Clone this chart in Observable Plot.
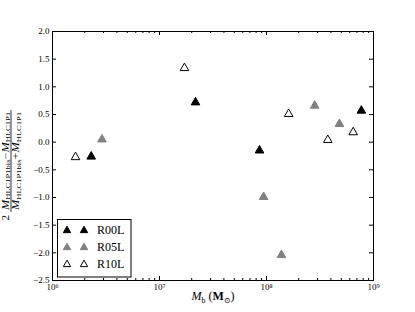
<!DOCTYPE html>
<html><head><meta charset="utf-8">
<script src="https://cdn.jsdelivr.net/npm/d3@7"></script>
<script src="https://cdn.jsdelivr.net/npm/@observablehq/plot@0.6"></script>
<style>body{margin:0;background:#fff}</style>
</head><body><div id="chart"></div>
<script>
// Data
const r00Mass = [2.3e6, 2.17e7, 8.6e7, 7.7e8];
const r00Diff = [-0.24, 0.74, -0.13, 0.59];
const r05Mass = [2.9e6, 9.4e7, 1.38e8, 2.82e8, 4.8e8];
const r05Diff = [0.07, -0.97, -2.02, 0.68, 0.35];
const r10Mass = [1.64e6, 1.71e7, 1.61e8, 3.74e8, 6.46e8];
const r10Diff = [-0.25, 1.36, 0.53, 0.06, 0.20];

const seriesNames = ["R00L", "R05L", "R10L"];
const seriesFill = ["black", "#808080", "white"];
const seriesStroke = ["black", "#808080", "black"];

const xTicks = [1e6, 1e7, 1e8, 1e9];
const xTickLabels = ["10⁶", "10⁷", "10⁸", "10⁹"];
const xMinorTicks = [2e6,3e6,4e6,5e6,6e6,7e6,8e6,9e6,2e7,3e7,4e7,5e7,6e7,7e7,8e7,9e7,2e8,3e8,4e8,5e8,6e8,7e8,8e8,9e8];
const yTicks = [-2.5, -2.0, -1.5, -1.0, -0.5, 0.0, 0.5, 1.0, 1.5, 2.0];

const rows = [];
[[r00Mass, r00Diff], [r05Mass, r05Diff], [r10Mass, r10Diff]].forEach(([m, d], s) => {
  m.forEach((v, i) => rows.push({mass: v, diff: d[i], series: seriesNames[s]}));
});

const tri = {
  draw(ctx, size) {
    const r = Math.sqrt(size / Math.PI);
    ctx.moveTo(0, -0.9 * r);
    ctx.lineTo(r, 0.85 * r);
    ctx.lineTo(-r, 0.85 * r);
    ctx.closePath();
  }
};

const W = 415, H = 312, mL = 52, mR = 42, mT = 31, mB = 32;
const innerW = W - mL - mR, innerH = H - mT - mB;
const font = "'Liberation Serif', 'DejaVu Serif', serif";

const svg = Plot.plot({
  width: W, height: H,
  marginLeft: mL, marginRight: mR, marginTop: mT, marginBottom: mB,
  style: {fontFamily: font, fontSize: "9px", background: "white", color: "black"},
  x: {type: "log", domain: [1e6, 1e9]},
  y: {domain: [-2.5, 2.0]},
  marks: [
    Plot.tickX(xTicks, {x: d => d, insetTop: innerH - 4, stroke: "black"}),
    Plot.tickX(xTicks, {x: d => d, insetBottom: innerH - 4, stroke: "black"}),
    Plot.tickX(xMinorTicks, {x: d => d, insetTop: innerH - 2, stroke: "black"}),
    Plot.tickX(xMinorTicks, {x: d => d, insetBottom: innerH - 2, stroke: "black"}),
    Plot.tickY(yTicks, {y: d => d, insetRight: innerW - 4, stroke: "black"}),
    Plot.tickY(yTicks, {y: d => d, insetLeft: innerW - 4, stroke: "black"}),
    Plot.axisX({ticks: xTicks, tickFormat: d => xTickLabels[xTicks.indexOf(d)], tickSize: 0, tickPadding: 3, label: null, fontSize: 9}),
    Plot.axisY({ticks: yTicks, tickFormat: d3.format(".1f"), tickSize: 0, tickPadding: 3, label: null, fontSize: 9}),
    Plot.dot(rows, {x: "mass", y: "diff", symbol: tri, r: 4.3,
      fill: d => seriesFill[seriesNames.indexOf(d.series)],
      stroke: d => seriesStroke[seriesNames.indexOf(d.series)], strokeWidth: 1}),
    Plot.frame({stroke: "black", strokeWidth: 1})
  ]
});

const s = d3.select(svg);
// Legend
const lg = s.append("g").attr("text-anchor", "start");
lg.append("rect").attr("x", 57.5).attr("y", 219.5).attr("width", 73.5).attr("height", 57.5)
  .attr("fill", "white").attr("stroke", "black").attr("stroke-width", 1);
const triPath = d3.symbol(tri, 3.7 * 3.7 * Math.PI)();
seriesNames.forEach((name, i) => {
  const yy = 229.5 + i * 17;
  [67, 84].forEach(xx => {
    lg.append("path").attr("d", triPath).attr("transform", `translate(${xx},${yy})`)
      .attr("fill", seriesFill[i]).attr("stroke", seriesStroke[i]).attr("stroke-width", 1);
  });
  lg.append("text").attr("x", 97).attr("y", yy + 4.5).attr("text-anchor", "start")
    .attr("font-family", font).attr("font-size", 12).text(name);
});

// X label
const xl = s.append("text").attr("x", 213).attr("y", 300).attr("text-anchor", "middle")
  .attr("font-family", font).attr("font-size", 12);
xl.append("tspan").attr("font-style", "italic").text("M");
xl.append("tspan").attr("font-size", 8).attr("dy", 2.5).text("b");
xl.append("tspan").attr("dy", -2.5).text(" (");
xl.append("tspan").attr("font-weight", "bold").text("M");
xl.append("tspan").attr("font-size", 8).attr("dy", 2.5).text("⊙");
xl.append("tspan").attr("dy", -2.5).text(")");

// Y label (rotated fraction)
const yl = s.append("g").attr("transform", "translate(11,161) rotate(-90)")
  .attr("font-family", font);
function frac(y, op) {
  const t = yl.append("text").attr("x", 0).attr("y", y).attr("text-anchor", "middle")
    .attr("font-size", 10).attr("textLength", 98).attr("lengthAdjust", "spacingAndGlyphs");
  t.append("tspan").attr("font-style", "italic").text("M");
  t.append("tspan").attr("font-size", 7).attr("dy", 1.5).text("HI,C1P1bis");
  t.append("tspan").attr("dy", -1.5).text(op);
  t.append("tspan").attr("font-style", "italic").text("M");
  t.append("tspan").attr("font-size", 7).attr("dy", 1.5).text("HI,C1P1");
}
frac(-2.5, "−");
frac(8, "+");
yl.append("line").attr("x1", -51).attr("x2", 51).attr("y1", 0).attr("y2", 0)
  .attr("stroke", "black").attr("stroke-width", 0.8);
yl.append("text").attr("x", -54).attr("y", -2.5).attr("text-anchor", "end")
  .attr("font-size", 11).text("2");

document.getElementById("chart").appendChild(svg);
</script>
</body></html>
